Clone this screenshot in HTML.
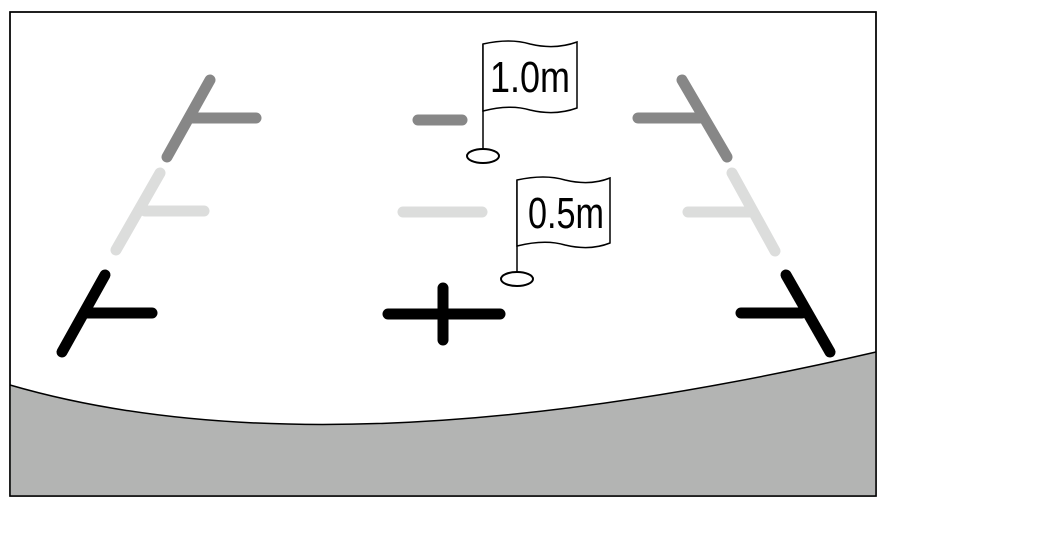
<!DOCTYPE html>
<html><head><style>html,body{margin:0;padding:0;background:#fff;}svg{display:block}</style></head>
<body>
<svg width="1051" height="541" viewBox="0 0 1051 541" xmlns="http://www.w3.org/2000/svg">
<rect x="10" y="12" width="866" height="484" fill="#fff" stroke="#000" stroke-width="1.5"/>
<path d="M10,385 Q330,478 876,352 L876,496 L10,496 Z" fill="#b3b4b3" stroke="none"/>
<path d="M10,385 Q330,478 876,352" fill="none" stroke="#000" stroke-width="1.5"/>
<rect x="10" y="12" width="866" height="484" fill="none" stroke="#000" stroke-width="1.5"/>
<g stroke-linecap="round" fill="none">
<g stroke="#878787" stroke-width="11">
<line x1="210" y1="80" x2="167" y2="157"/><line x1="190" y1="118" x2="256" y2="118"/>
<line x1="682" y1="80" x2="727" y2="157"/><line x1="638" y1="118" x2="700" y2="118"/>
<line x1="418" y1="120" x2="462" y2="120"/>
</g>
<g stroke="#dcdddc" stroke-width="11">
<line x1="160" y1="173" x2="116" y2="250"/><line x1="145" y1="211" x2="204" y2="211"/>
<line x1="732" y1="173" x2="775" y2="251"/><line x1="688" y1="212" x2="752" y2="212"/>
<line x1="403" y1="212" x2="482" y2="212"/>
</g>
<g stroke="#000" stroke-width="11">
<line x1="105" y1="275" x2="62" y2="352"/><line x1="85" y1="313" x2="152" y2="313"/>
<line x1="786" y1="275" x2="830" y2="352"/><line x1="741" y1="313" x2="802" y2="313"/>
<line x1="388" y1="314" x2="500" y2="314"/><line x1="443" y1="288" x2="443" y2="340"/>
</g>
</g>
<g stroke="#000" stroke-width="1.5" fill="#fff">
<line x1="483" y1="44" x2="483" y2="156"/>
<ellipse cx="483" cy="156" rx="16" ry="7" stroke-width="2"/>
<path d="M483,44 Q510,38 530,44 Q555,50 577,42 L577,108 Q555,116 530,110 Q510,104 483,111 Z"/>
<line x1="517" y1="180" x2="517" y2="278"/>
<ellipse cx="517" cy="279" rx="16" ry="7" stroke-width="2"/>
<path d="M517,180 Q545,174 565,180 Q590,186 610,178 L610,243 Q590,251 565,245 Q545,239 517,246 Z"/>
</g>
<text x="490" y="92" font-family="Liberation Sans, sans-serif" font-size="44" textLength="80" lengthAdjust="spacingAndGlyphs" fill="#000">1.0m</text>
<text x="528" y="228" font-family="Liberation Sans, sans-serif" font-size="44" textLength="76" lengthAdjust="spacingAndGlyphs" fill="#000">0.5m</text>
</svg>
</body></html>
